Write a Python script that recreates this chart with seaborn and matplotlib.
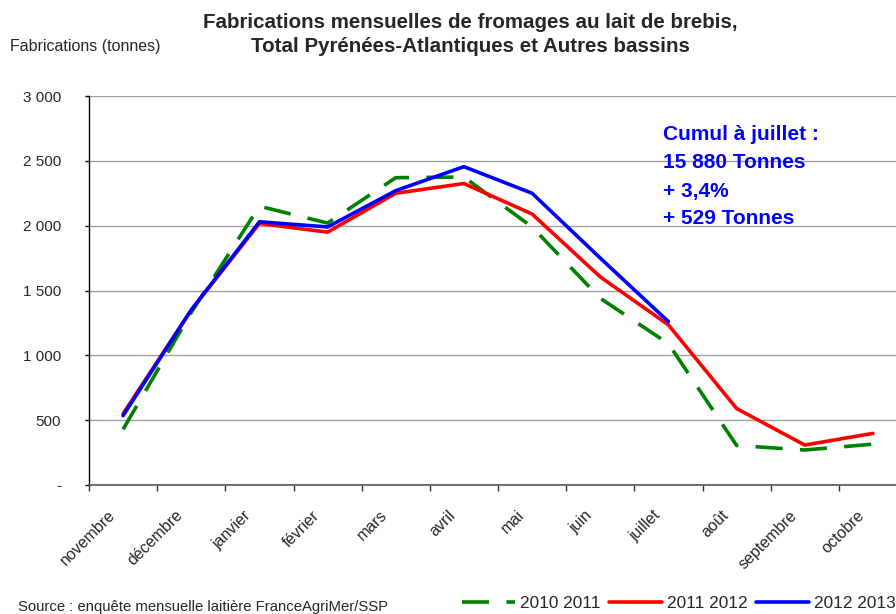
import matplotlib
matplotlib.use("Agg")
import matplotlib.pyplot as plt
import matplotlib.transforms as mtransforms
import seaborn as sns
import pandas as pd
from matplotlib.lines import Line2D

months = ["novembre", "décembre", "janvier", "février", "mars", "avril",
          "mai", "juin", "juillet", "août", "septembre", "octobre"]
s2010_2011 = [430, 1330, 2150, 2020, 2370, 2375, 1990, 1440, 1090, 305, 270, 315]
s2011_2012 = [550, 1350, 2017, 1950, 2250, 2325, 2090, 1605, 1235, 590, 308, 398]
s2012_2013 = [535, 1350, 2030, 1990, 2270, 2455, 2250, 1750, 1260]

yticks = [0, 500, 1000, 1500, 2000, 2500, 3000]
ytick_labels = ["-", "500", "1 000", "1 500", "2 000", "2 500", "3 000"]

sns.set_style("white")
plt.rcParams["font.family"] = ["Liberation Sans", "DejaVu Sans"]

fig = plt.figure(figsize=(8.96, 6.14), dpi=100)
ax = fig.add_axes([89/896, 1-485/614, 818/896, 389/614])

df1 = pd.DataFrame({"mois": months, "v": s2010_2011})
df2 = pd.DataFrame({"mois": months, "v": s2011_2012})
df3 = pd.DataFrame({"mois": months[:len(s2012_2013)], "v": s2012_2013})

DASH = (7.5, 4.8)
sns.lineplot(data=df1, x="mois", y="v", ax=ax, color="#008000", lw=2.6, sort=False)
ax.lines[-1].set_dashes(DASH)
sns.lineplot(data=df2, x="mois", y="v", ax=ax, color="#ff0000", lw=2.6, sort=False)
sns.lineplot(data=df3, x="mois", y="v", ax=ax, color="#0000ff", lw=2.6, sort=False)

ax.set_xlim(-0.5, 11.5)
ax.set_ylim(0, 3000)
ax.set_yticks(yticks)
ax.set_yticklabels(ytick_labels, fontsize=11)
ax.yaxis.grid(True, color="#a0a0a0", lw=1)
ax.set_axisbelow(True)

# category labels, rotated
ax.set_xticks(range(len(months)))
ax.set_xticklabels([])
lab_trans = ax.get_xaxis_transform() + mtransforms.ScaledTranslation(
    -10.5/100, -28/100, fig.dpi_scale_trans)
for i, m in enumerate(months):
    ax.text(i, 0, m, transform=lab_trans, rotation=45, ha="right", va="center",
            rotation_mode="anchor", fontsize=11.5, clip_on=False)

ax.set_xticks([i - 0.5 for i in range(len(months) + 1)], minor=True)
ax.tick_params(axis="x", which="major", length=0)
ax.tick_params(axis="x", which="minor", length=4, width=1, color="#333333", direction="out", bottom=True)
ax.tick_params(axis="y", length=3, width=1, color="#000000", direction="out", left=True, pad=17)
ax.set_xlabel("")
ax.set_ylabel("")
for sp in ["top", "right"]:
    ax.spines[sp].set_visible(False)
ax.spines["left"].set_color("#000000")
ax.spines["bottom"].set_color("#555555")
ax.spines["left"].set_linewidth(1)
ax.spines["bottom"].set_linewidth(1.2)

fig.text(470/896, 1-22/614, "Fabrications mensuelles de fromages au lait de brebis,",
         ha="center", va="center", fontsize=14.8, fontweight="bold")
fig.text(470/896, 1-47/614, "Total Pyrénées-Atlantiques et Autres bassins",
         ha="center", va="center", fontsize=14.8, fontweight="bold")
fig.text(10/896, 1-47/614, "Fabrications (tonnes)", ha="left", va="center", fontsize=11.5)

ann = ["Cumul à juillet :", "15 880 Tonnes", "+ 3,4%", "+ 529 Tonnes"]
for i, t in enumerate(ann):
    fig.text(663/896, 1-(135 + i*28)/614, t, ha="left", va="center",
             fontsize=15, fontweight="bold", color="#0000ff")

fig.text(18/896, 1-607/614, "Source : enquête mensuelle laitière FranceAgriMer/SSP",
         ha="left", va="center", fontsize=10.75)

handles = [Line2D([0], [0], color="#008000", lw=2.6, dashes=DASH),
           Line2D([0], [0], color="#ff0000", lw=2.6),
           Line2D([0], [0], color="#0000ff", lw=2.6)]
leg = fig.legend(handles, ["2010 2011", "2011 2012", "2012 2013"], loc="center",
                 bbox_to_anchor=(679/896, 1-603/614), ncol=3, frameon=False,
                 fontsize=12.4, handlelength=3.08, handletextpad=0.29, columnspacing=0.47,
                 borderaxespad=0, borderpad=0)

fig.savefig("out.png", dpi=100)
